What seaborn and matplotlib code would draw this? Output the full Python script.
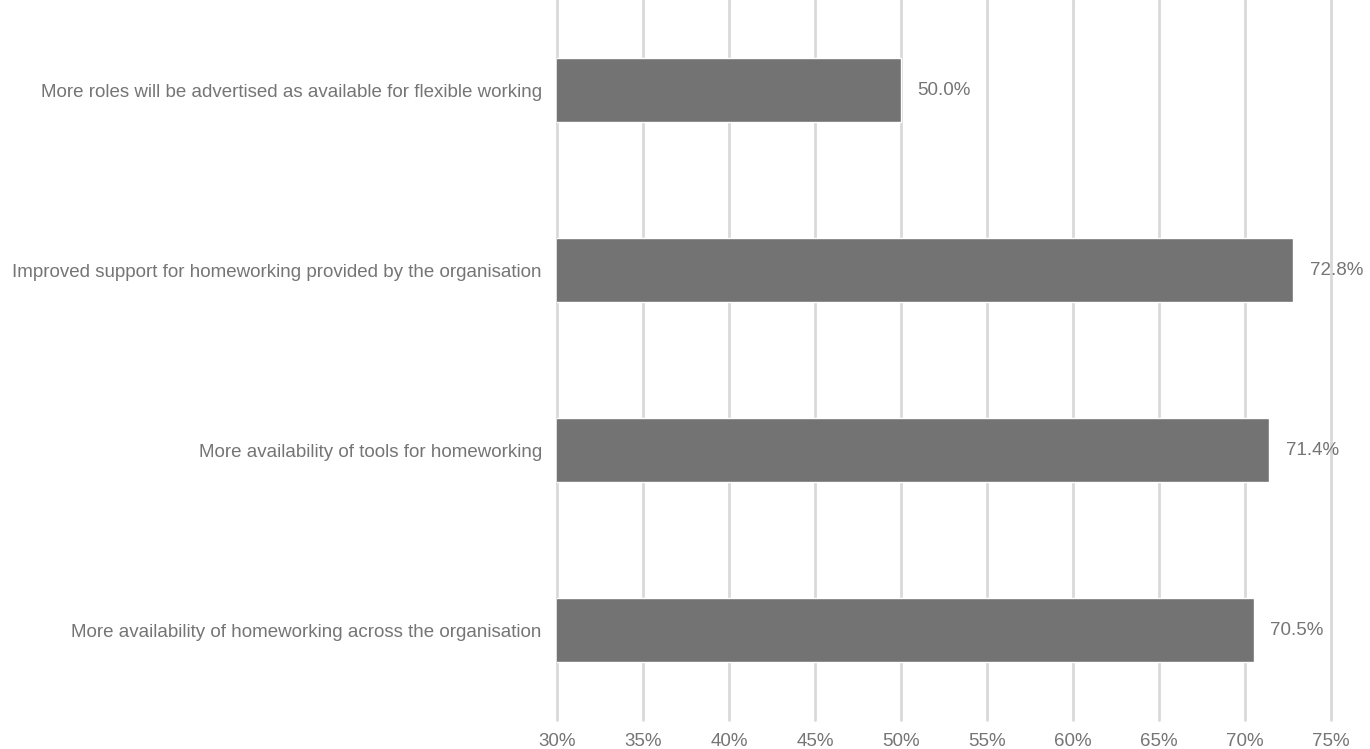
import seaborn as sns
import matplotlib.pyplot as plt
import pandas as pd
from matplotlib.ticker import FuncFormatter

# Survey statements and share of respondents (%)
statements = [
    "More roles will be advertised as available for flexible working",
    "Improved support for homeworking provided by the organisation",
    "More availability of tools for homeworking",
    "More availability of homeworking across the organisation",
]
shares = [50.0, 72.8, 71.4, 70.5]
x_ticks = [30, 35, 40, 45, 50, 55, 60, 65, 70, 75]

df = pd.DataFrame({"statement": statements, "share": shares})

sns.set_style("white")
plt.rcParams["font.family"] = ["Liberation Sans", "DejaVu Sans"]

fig = plt.figure(figsize=(13.7, 7.49), dpi=100)
ax = fig.add_axes([0.4066, 0.0387, 0.5649, 0.9613])

sns.barplot(data=df, x="share", y="statement", orient="h", color="#737373",
            width=0.356, saturation=1, ax=ax, zorder=2)

ax.set_xlim(30, 75)
ax.set_ylim(3.5, -0.5)
ax.set_xticks(x_ticks)
ax.xaxis.set_major_formatter(FuncFormatter(lambda v, p: f"{v:.0f}%"))
ax.grid(axis="x", color="#d9d9d9", linewidth=2, zorder=0)
ax.set_axisbelow(True)
for gl in ax.get_xgridlines():
    gl.set_clip_on(False)
for s in ax.spines.values():
    s.set_visible(False)
ax.set_xlabel("")
ax.set_ylabel("")
ax.tick_params(axis="both", length=0, labelsize=13.5, labelcolor="#757575")
ax.tick_params(axis="y", pad=11)
ax.tick_params(axis="x", pad=9)

# Value labels next to each bar
for i, v in enumerate(shares):
    ax.annotate(f"{v:.1f}%", xy=(v, i), xytext=(12, 0), textcoords="offset points",
                ha="left", va="center", fontsize=13.5, color="#757575")

plt.savefig("out.png", dpi=100)
